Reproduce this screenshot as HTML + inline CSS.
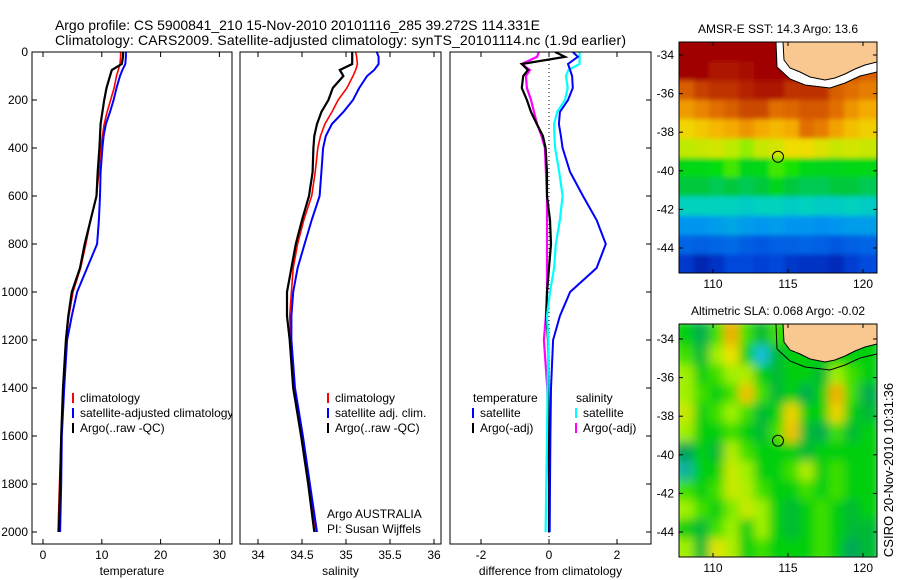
<!DOCTYPE html>
<html><head><meta charset="utf-8"><style>
html,body{margin:0;padding:0;background:#fff;width:900px;height:580px;overflow:hidden}
svg text{font-family:"Liberation Sans",sans-serif;fill:#000}
</style></head><body>
<svg id="fig" width="900" height="580" viewBox="0 0 900 580" xmlns="http://www.w3.org/2000/svg">
<defs>
<clipPath id="c1"><rect x="32" y="52" width="200" height="492"/></clipPath>
<clipPath id="c2"><rect x="240" y="52" width="201" height="492"/></clipPath>
<clipPath id="c3"><rect x="450" y="52" width="201" height="492"/></clipPath>
<clipPath id="m1"><rect x="679" y="42" width="198" height="231"/></clipPath>
<clipPath id="m2"><rect x="679" y="324" width="198" height="233"/></clipPath>
<filter id="bl" x="-5%" y="-5%" width="110%" height="110%"><feGaussianBlur stdDeviation="5"/></filter>
<filter id="bl2" x="-5%" y="-5%" width="110%" height="110%"><feGaussianBlur stdDeviation="2.5"/></filter>
</defs>
<text x="55" y="30" font-size="14" textLength="485">Argo profile: CS 5900841_210 15-Nov-2010 20101116_285 39.272S 114.331E</text>
<text x="55" y="45" font-size="14" textLength="571">Climatology: CARS2009. Satellite-adjusted climatology: synTS_20101114.nc (1.9d earlier)</text>
<g id="p1"></g>
<g id="p2"></g>
<g id="p3"></g>
<g id="map1"></g>
<g id="map2"></g>
<text transform="translate(893,470) rotate(-90)" text-anchor="middle" font-size="13">CSIRO 20-Nov-2010 10:31:36</text>
</svg>
<script>
const depths=[0,20,50,75,100,150,200,250,300,350,400,500,600,700,800,900,1000,1100,1200,1400,1600,1800,2000];
const tempClim=[13.2,13.2,13.1,12.8,12.5,12.1,11.5,10.9,10.4,10.1,9.8,9.5,9.1,8.1,7.3,6.4,5.1,4.4,3.9,3.4,3.1,2.8,2.55];
const tempSat=[14.1,14.1,14.0,13.5,13.1,12.5,12.0,11.4,10.7,10.3,10.1,9.8,9.7,9.5,9.2,7.5,5.8,4.9,4.1,3.6,3.2,3.1,2.9];
const tempArgo=[13.6,13.6,13.4,11.7,11.4,10.8,10.4,10.1,9.8,9.7,9.6,9.3,9.1,8.1,7.1,6.3,4.9,4.3,3.9,3.4,3.1,2.9,2.7];
const salClim=[35.11,35.12,35.13,35.11,35.08,35.01,34.91,34.84,34.76,34.71,34.68,34.65,34.61,34.52,34.45,34.40,34.38,34.36,34.37,34.41,34.50,34.58,34.66];
const salSat=[35.35,35.37,35.37,35.32,35.24,35.15,35.08,34.97,34.84,34.77,34.74,34.72,34.70,34.61,34.53,34.45,34.40,34.38,34.38,34.42,34.51,34.59,34.67];
const salArgo=[35.07,35.07,35.07,34.93,34.97,34.85,34.80,34.72,34.67,34.64,34.63,34.62,34.58,34.50,34.43,34.38,34.33,34.33,34.36,34.40,34.49,34.57,34.64];
const dTempSat=[0.7,0.85,0.56,0.62,0.68,0.7,0.56,0.32,0.29,0.35,0.4,0.62,1.0,1.4,1.67,1.4,0.62,0.32,0.12,0.06,0.04,0.03,0.02];
const dSalSat=[0.9,0.9,0.9,0.57,0.5,0.55,0.47,0.24,0.15,0.16,0.18,0.3,0.4,0.32,0.2,0.15,0.03,-0.06,-0.02,-0.04,-0.06,-0.08,-0.1];
const dTempArgo=[0.18,0.47,-0.8,-0.62,-0.76,-0.8,-0.65,-0.53,-0.36,-0.18,-0.1,-0.06,-0.06,0.03,0.06,0.0,-0.06,-0.08,-0.03,-0.02,0.0,0.01,0.0];
const dSalArgo=[-0.3,-0.35,-0.8,-0.56,-0.68,-0.65,-0.53,-0.44,-0.35,-0.22,-0.12,-0.09,-0.06,-0.06,-0.06,-0.06,-0.06,-0.09,-0.15,-0.05,-0.02,0.0,0.0];
const depthTicks=[0,200,400,600,800,1000,1200,1400,1600,1800,2000];
const tempTicks=[0,10,20,30];
const salTicks=[34,34.5,35,35.5,36];
const salTickLabels=["34","34.5","35","35.5","36"];
const diffTicks=[-2,0,2];
const latTicks=[-34,-36,-38,-40,-42,-44];
const lonTicks=[110,115,120];
const argoLon=114.331, argoLat=-39.272;
const sstGrid=[
[.95,.95,.95,.95,.95,.95,.95,.95,.95,.95,.95,.95,.95],
[.95,.95,.92,.92,.93,.95,.95,.95,.95,.95,.9,.84,.82],
[.82,.86,.88,.88,.9,.92,.92,.88,.88,.88,.82,.8,.78],
[.74,.77,.8,.82,.85,.85,.8,.81,.83,.83,.8,.75,.72],
[.66,.68,.7,.72,.75,.72,.7,.72,.8,.78,.73,.69,.67],
[.6,.61,.62,.6,.57,.61,.62,.65,.65,.63,.61,.62,.61],
[.47,.47,.49,.53,.46,.47,.53,.51,.47,.46,.46,.47,.47],
[.42,.42,.41,.42,.41,.42,.46,.42,.41,.41,.42,.42,.41],
[.36,.36,.36,.36,.35,.36,.36,.35,.36,.35,.35,.36,.35],
[.28,.28,.29,.3,.29,.28,.29,.28,.28,.27,.28,.29,.29],
[.2,.19,.2,.21,.19,.18,.19,.19,.2,.19,.18,.19,.2],
[.12,.08,.11,.15,.15,.14,.15,.12,.11,.11,.09,.13,.16]];
const slaGrid=[
[.5,.42,.55,.78,.55,.45,.55,.5,.5,.5,.5,.5,.5],
[.55,.45,.6,.7,.5,.3,.45,.5,.5,.5,.5,.5,.5],
[.6,.5,.55,.6,.62,.5,.45,.5,.5,.45,.6,.55,.5],
[.6,.55,.5,.55,.75,.55,.45,.5,.42,.5,.78,.55,.42],
[.65,.5,.55,.6,.55,.45,.5,.72,.5,.5,.72,.5,.45],
[.6,.5,.5,.55,.5,.45,.55,.75,.45,.42,.55,.45,.5],
[.4,.5,.45,.62,.55,.5,.5,.5,.45,.5,.5,.5,.5],
[.35,.5,.5,.65,.6,.5,.5,.55,.62,.5,.55,.5,.5],
[.55,.5,.55,.65,.62,.55,.5,.5,.55,.5,.55,.5,.5],
[.6,.55,.5,.58,.65,.6,.5,.45,.5,.55,.5,.45,.5],
[.5,.45,.55,.6,.5,.6,.5,.45,.5,.55,.5,.45,.45],
[.6,.45,.68,.62,.5,.55,.5,.5,.5,.55,.5,.4,.45]];

const NS="http://www.w3.org/2000/svg";
function mk(tag,attrs,parent){const e=document.createElementNS(NS,tag);for(const k in attrs)e.setAttribute(k,attrs[k]);parent.appendChild(e);return e;}
const yD=d=>52+d*0.24;
const xT=t=>43+5.88*t;
const xS=s=>258+88*(s-34);
const xDf=v=>549+34*v;

function panel(g,x0,x1,clip,xf,ticks,labels,xlabel,series,leftLabels,rightTicks){
  for(const s of series){
    const pts=depths.map((d,i)=>xf(s.v[i]).toFixed(1)+","+yD(d).toFixed(1)).join(" ");
    const pl=mk("polyline",{points:pts,fill:"none",stroke:s.c,"stroke-width":s.w,"clip-path":"url(#"+clip+")","stroke-linejoin":"miter"},g);
    
    
  }
  const fr=mk("rect",{x:x0,y:52,width:x1-x0,height:492,fill:"none",stroke:"#000","stroke-width":1},g);
  
  
  ticks.forEach((t,i)=>{
    const x=xf(t);
    mk("line",{x1:x,x2:x,y1:544,y2:539,stroke:"#000"},g);
    mk("line",{x1:x,x2:x,y1:52,y2:57,stroke:"#000"},g);
    const tx=mk("text",{x:x,y:559,"text-anchor":"middle","font-size":"12"},g);
    tx.textContent=labels[i];
    
    
  });
  const xl=mk("text",{x:(x0+x1)/2,y:575,"text-anchor":"middle","font-size":"12"},g);
  xl.textContent=xlabel;
  
  
  depthTicks.forEach(d=>{
    if(leftLabels){
      mk("line",{x1:x0,x2:x0+5,y1:yD(d),y2:yD(d),stroke:"#000"},g);
      const tx=mk("text",{x:x0-4,y:yD(d)+4,"text-anchor":"end","font-size":"12"},g);
      tx.textContent=d;
      
      
    }
    if(rightTicks) mk("line",{x1:x1,x2:x1-5,y1:yD(d),y2:yD(d),stroke:"#000"},g);
  });
}
const p1=document.getElementById("p1"),p2=document.getElementById("p2"),p3=document.getElementById("p3");
panel(p1,32,232,"c1",xT,tempTicks,tempTicks.map(String),"temperature",[
 {v:tempClim,c:"#f00",w:1.6,n:"temp-climatology-line"},
 {v:tempSat,c:"#00f",w:2,n:"temp-satellite-line"},
 {v:tempArgo,c:"#000",w:2.2,n:"temp-argo-line"}],true,false);
panel(p2,240,441,"c2",xS,salTicks,salTickLabels,"salinity",[
 {v:salClim,c:"#f00",w:1.6,n:"sal-climatology-line"},
 {v:salSat,c:"#00f",w:2,n:"sal-satellite-line"},
 {v:salArgo,c:"#000",w:2.2,n:"sal-argo-line"}],false,false);
mk("line",{x1:xDf(0),x2:xDf(0),y1:52,y2:544,stroke:"#000","stroke-dasharray":"1,3","stroke-width":1},p3);
panel(p3,450,651,"c3",xDf,diffTicks,diffTicks.map(String),"difference from climatology",[
 {v:dSalArgo,c:"#f0f",w:2.2,n:"diff-sal-argo-line"},
 {v:dTempArgo,c:"#000",w:2.2,n:"diff-temp-argo-line"},
 {v:dSalSat,c:"#0ff",w:2.2,n:"diff-sal-satellite-line"},
 {v:dTempSat,c:"#00f",w:2,n:"diff-temp-satellite-line"}],false,true);

function legend(g,x,y,items,name){
  const lg=mk("g",{},g);
  
  
  items.forEach((it,i)=>{
    const yy=y+i*15;
    if(it.c) mk("line",{x1:x,x2:x,y1:yy-9,y2:yy+1,stroke:it.c,"stroke-width":2},lg);
    const t=mk("text",{x:x+(it.c?7:0),y:yy,"font-size":"12"},lg);
    t.textContent=it.t;
  });
}
legend(p1,73,402,[{c:"#f00",t:"climatology"},{c:"#00f",t:"satellite-adjusted climatology"},{c:"#000",t:"Argo(..raw -QC)"}],"temperature-legend");
legend(p2,328,402,[{c:"#f00",t:"climatology"},{c:"#00f",t:"satellite adj. clim."},{c:"#000",t:"Argo(..raw -QC)"}],"salinity-legend");
legend(p3,473,402,[{c:null,t:"  temperature"},{c:"#00f",t:"satellite"},{c:"#000",t:"Argo(-adj)"}],"diff-temp-legend");
legend(p3,576,402,[{c:null,t:"  salinity"},{c:"#0ff",t:"satellite"},{c:"#f0f",t:"Argo(-adj)"}],"diff-sal-legend");
const ot=mk("text",{x:327,y:518,"font-size":"12"},p2);ot.textContent="Argo AUSTRALIA";


const pi=mk("text",{x:327,y:533,"font-size":"12"},p2);pi.textContent="PI: Susan Wijffels";


mk("rect",{x:232.5,y:390,width:7,height:40,fill:"#fff"},p1);

function interp(stops,v){
  v=Math.max(0,Math.min(1,v));
  for(let i=1;i<stops.length;i++){
    if(v<=stops[i][0]){const a=stops[i-1],b=stops[i];const f=(v-a[0])/(b[0]-a[0]);
      const c=[0,1,2].map(k=>Math.round(a[1][k]+(b[1][k]-a[1][k])*f));return "rgb("+c.join(",")+")";}
  }
  const l=stops[stops.length-1][1];return "rgb("+l.join(",")+")";
}
const sstStops=[[0,[0,0,130]],[.15,[0,70,220]],[.28,[0,150,240]],[.36,[0,210,190]],[.42,[0,200,60]],[.5,[0,225,0]],[.58,[170,240,0]],[.65,[240,220,0]],[.72,[245,170,0]],[.8,[225,110,0]],[.88,[190,50,0]],[.95,[160,0,0]],[1,[150,0,0]]];
const slaStops=[[0,[0,0,180]],[.3,[20,190,220]],[.4,[0,165,90]],[.47,[0,195,40]],[.52,[0,215,0]],[.6,[160,240,0]],[.7,[240,225,0]],[.8,[245,160,0]],[1,[200,40,0]]];
function map(gid,top,bottom,latY0,grid,stops,filt,title,coastWhite){
  const g=document.getElementById(gid);
  const xL=lon=>713+15*(lon-110);
  const yL=lat=>latY0+19.3*(-34-lat);
  const lon0=107.73,lat0=-33.33;
  const cg=mk("g",{"clip-path":"url(#"+(gid=="map1"?"m1":"m2")+")"},g);
  const inner=mk("g",{filter:"url(#"+filt+")"},cg);
  grid.forEach((row,r)=>row.forEach((v,c)=>{
    const x=xL(lon0+c),y=yL(lat0-r);
    const pad=(c==0||c==row.length-1||r==0||r==grid.length-1)?6:0;
    const cell=mk("rect",{x:x-(c==0?pad:0),y:y-(r==0?pad:0),width:15.6+(c==0||c==row.length-1?pad:0),height:19.7+(r==0||r==grid.length-1?pad:0),fill:interp(stops,v)},inner);
    
    
  }));
  const o=top-42;
  if(coastWhite){
    mk("polygon",{points:[[776,42],[777,67],[790,79],[805,85],[830,88],[845,83],[860,76],[877,72],[877,42]].map(p=>p[0]+","+(p[1]+o)).join(" "),fill:"#fff",stroke:"#000","stroke-width":1},cg);
  } else {
    mk("polyline",{points:[[776,42],[777,67],[790,79],[805,85],[830,88],[845,83],[860,76],[877,72]].map(p=>p[0]+","+(p[1]+o)).join(" "),fill:"none",stroke:"#000","stroke-width":1},cg);
  }
  const land=mk("polygon",{points:[[783,42],[784,60],[790,68],[800,72],[810,77],[825,80],[835,78],[845,74],[855,69],[865,65],[877,62],[877,42]].map(p=>p[0]+","+(p[1]+o)).join(" "),fill:"#f9c891",stroke:"#000","stroke-width":1},cg);
  
  
  const fr=mk("rect",{x:679,y:top,width:198,height:bottom-top,fill:"none",stroke:"#000"},g);
  
  
  latTicks.forEach(l=>{const y=yL(l);
    mk("line",{x1:679,x2:683,y1:y,y2:y,stroke:"#000"},g);mk("line",{x1:877,x2:873,y1:y,y2:y,stroke:"#000"},g);
    const t=mk("text",{x:674,y:y+4,"text-anchor":"end","font-size":"12"},g);t.textContent=l;
    
    });
  lonTicks.forEach(l=>{const x=xL(l);
    mk("line",{x1:x,x2:x,y1:top,y2:top+4,stroke:"#000"},g);mk("line",{x1:x,x2:x,y1:bottom,y2:bottom-4,stroke:"#000"},g);
    const t=mk("text",{x:x,y:bottom+15,"text-anchor":"middle","font-size":"12"},g);t.textContent=l;
    
    });
  const tt=mk("text",{x:778,y:top-9,"text-anchor":"middle","font-size":"12"},g);tt.textContent=title;
  
  
  const m=mk("circle",{cx:xL(argoLon),cy:yL(argoLat),r:5.5,fill:"none",stroke:"#000","stroke-width":1},g);
  
  
}
map("map1",42,273,55,sstGrid,sstStops,"bl2","AMSR-E SST: 14.3 Argo: 13.6",true);
map("map2",324,557,339,slaGrid,slaStops,"bl","Altimetric SLA: 0.068 Argo: -0.02",false);
</script>
</body></html>
